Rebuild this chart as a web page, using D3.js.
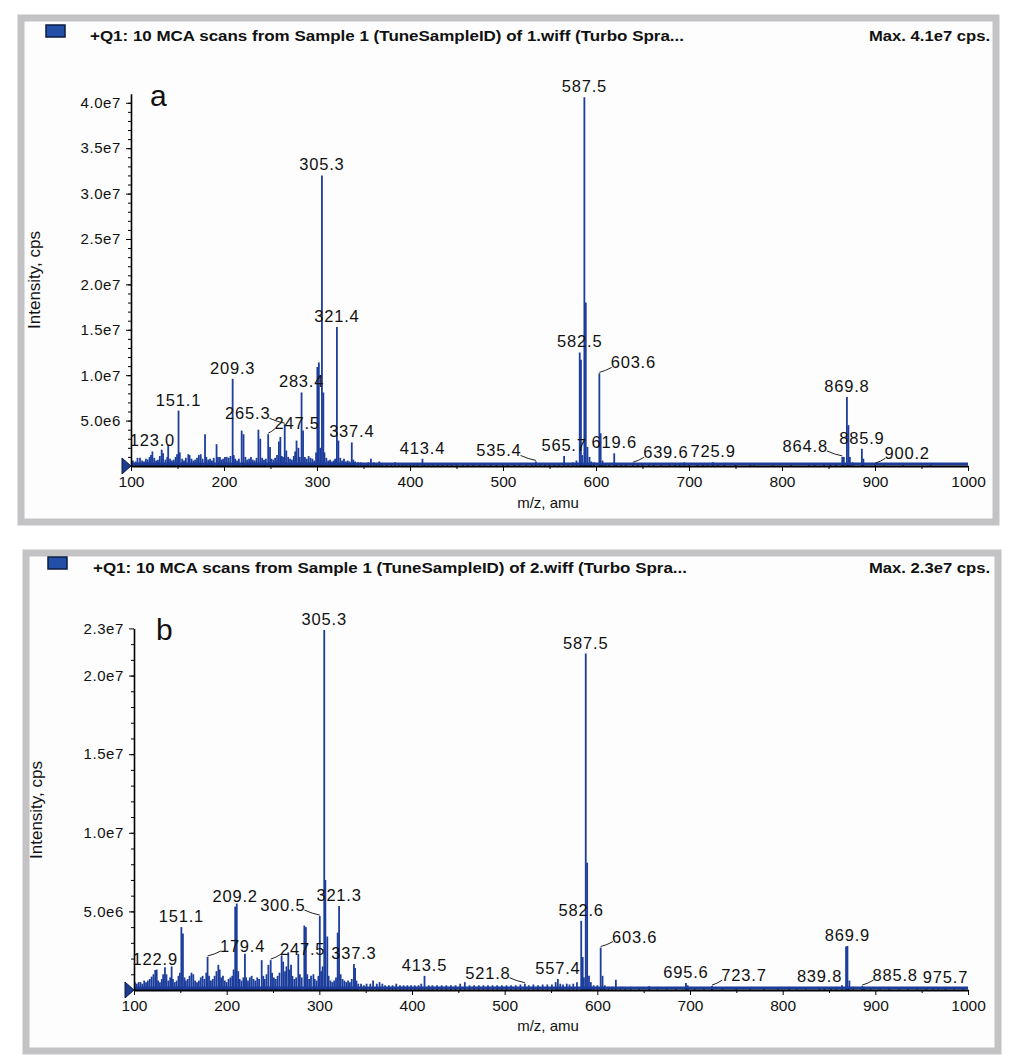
<!DOCTYPE html>
<html>
<head>
<meta charset="utf-8">
<script src="https://cdn.jsdelivr.net/npm/d3@7"></script>
<style>
  body { margin: 0; background: #fff; }
  svg text { font-family: "Liberation Sans", Arial, sans-serif; fill: #111; }
</style>
</head>
<body>
<svg id="chart" width="1024" height="1061"></svg>
<script>
// ---- data: [m/z, intensity in 1e6 cps] ----
const peaksA = [[102,0.6],[105,0.5],[107,0.9],[109.7,0.9],[112,0.6],[114,0.5],[116,0.8],[118,0.7],[120,1.0],[121.5,1.2],[123.0,1.6],[125,0.9],[127,0.6],[129,0.7],[131,1.1],[133,1.8],[134.5,1.4],[137,0.7],[139,1.0],[140,2.3],[142,0.8],[144,0.6],[146,0.7],[148,1.0],[149.5,1.3],[151.1,6.1],[152.5,1.5],[155,0.8],[157,0.6],[159,0.9],[161.6,1.3],[163,1.2],[165,0.8],[167,0.6],[169,0.7],[171,0.9],[173,1.2],[175,1.3],[177,0.8],[179.6,3.5],[181,1.0],[183,0.7],[185,0.8],[187,0.6],[189,0.9],[192,2.4],[193.5,1.0],[195.6,1.0],[197,0.7],[199,0.8],[201,1.0],[203,1.0],[205,0.9],[207,1.1],[209.3,9.6],[210.5,1.2],[212,0.8],[214,0.6],[216,0.8],[219,3.9],[221,3.5],[223,1.0],[225,0.7],[227,0.8],[229,1.0],[231,0.7],[233,0.6],[235,0.9],[237,4.0],[239,3.0],[241,0.9],[243,0.7],[245,0.8],[247.5,3.5],[249.5,2.1],[251,0.8],[253,0.7],[255,0.9],[257,1.2],[259,2.7],[260.6,3.2],[262,1.1],[263.5,1.0],[265.3,4.6],[267,1.7],[269,1.0],[271,0.8],[273,0.7],[275,1.1],[276.5,1.6],[278,2.8],[280,2.0],[281.5,1.0],[283.4,8.1],[285,3.9],[287,1.0],[289,0.8],[291,1.1],[293,0.9],[295,0.8],[297,0.6],[299,1.5],[300.4,10.9],[302,11.4],[303.5,2.0],[305.3,32.0],[306.8,8.1],[308,1.5],[310,0.9],[312,0.6],[314,0.7],[316,0.5],[318,0.6],[319.5,0.8],[321.4,15.3],[323,2.8],[325,0.9],[327,0.6],[329,0.8],[331,0.5],[333,0.6],[335,0.5],[337.4,2.6],[339,0.7],[341,0.5],[344,0.4],[347,0.4],[350,0.3],[353,0.3],[355,0.4],[358,0.8],[361,0.4],[364,0.3],[367,0.5],[370,0.3],[375,0.3],[380,0.3],[384,0.4],[388,0.3],[392,0.3],[396,0.3],[400,0.3],[404,0.3],[408,0.3],[413.4,0.8],[416,0.3],[420,0.3],[425,0.3],[430,0.3],[435,0.3],[440,0.3],[445,0.3],[450,0.3],[457,0.3],[462,0.3],[468,0.25],[475,0.25],[480,0.25],[487,0.25],[493,0.25],[500,0.3],[505,0.25],[512,0.25],[518,0.3],[525,0.3],[531,0.3],[535.4,0.5],[540,0.3],[545,0.25],[550,0.3],[555,0.3],[560,0.3],[565.7,1.1],[570,0.3],[575,0.4],[579,0.6],[582.5,12.5],[583.8,11.7],[585.3,1.2],[587.5,40.6],[589,18.0],[590.8,2.1],[593,1.0],[595,0.5],[598,0.4],[603.6,10.2],[605,3.6],[607,0.6],[610,0.3],[614,0.3],[619.6,1.4],[622,0.3],[627,0.2],[632,0.2],[639.6,0.3],[645,0.2],[650,0.2],[657,0.3],[662,0.2],[670,0.2],[679,0.3],[685,0.3],[690,0.3],[695,0.4],[700,0.2],[709,0.3],[715,0.2],[720,0.3],[725.9,0.4],[731,0.3],[738,0.2],[750,0.1],[766,0.3],[770,0.2],[790,0.1],[810,0.1],[829,0.2],[835,0.2],[845,0.2],[852,0.2],[858,0.3],[864.8,1.0],[866.5,1.0],[869.8,7.6],[871.4,4.5],[873,1.0],[876,0.4],[885.9,1.9],[887.5,0.8],[900.2,0.2],[910,0.1],[930,0.1],[960,0.1]];

const peaksB = [[101,0.5],[103,0.4],[105,0.5],[107,0.5],[109,0.4],[111,0.6],[113,0.5],[115,0.6],[117,0.7],[119,0.85],[121,1.0],[122.9,1.27],[124.5,1.3],[126,0.6],[128,0.5],[130,0.7],[131.5,1.0],[133.4,1.45],[135,1.0],[137,0.6],[139,0.8],[140.6,1.5],[142,0.7],[144,0.5],[146,0.6],[148,0.9],[149.5,1.1],[151.1,4.0],[152.8,3.6],[154.5,0.8],[156,0.6],[158,0.7],[160,0.9],[162,1.1],[164,1.0],[166,0.6],[168,0.5],[170,0.6],[172,0.8],[174,0.9],[176,0.7],[178,1.1],[179.4,2.1],[181,0.9],[183,0.6],[185,0.7],[187,0.9],[189,1.2],[191,1.6],[192.5,1.3],[194,0.8],[196,0.9],[198,0.6],[200,0.5],[202,0.7],[204,0.8],[206,0.9],[207.5,1.3],[209.2,5.3],[210.9,5.5],[212.5,1.2],[214,0.7],[216,0.6],[218,0.8],[219.7,2.3],[221,0.8],[223,0.6],[225,0.8],[227,0.9],[229,0.7],[231,0.6],[233,0.8],[235,0.7],[237.8,1.9],[239.5,0.9],[241,0.7],[243,1.0],[245,1.6],[247.5,1.9],[249,1.1],[251,0.8],[253,0.7],[255,0.9],[257,1.1],[259.3,2.2],[261,1.8],[263,1.2],[264.5,1.5],[266.5,2.4],[268,1.3],[269.5,1.6],[271,0.9],[273,0.7],[275,0.8],[277.3,2.3],[279,1.0],[281,0.8],[283.8,4.1],[285.5,4.0],[287,1.0],[289,0.7],[291,0.9],[293.6,1.0],[295,0.7],[297,0.6],[299,0.9],[300.5,4.7],[302,1.2],[303.5,1.5],[305.3,22.9],[306.5,7.0],[308.6,3.4],[310,0.9],[312,0.6],[314,0.5],[316,0.6],[318,0.8],[319.8,3.65],[321.3,5.35],[323,1.0],[325,0.7],[327,0.6],[329,0.5],[331,0.6],[333,0.5],[335,0.7],[337.3,1.65],[338.6,1.4],[340,0.6],[342,0.4],[345,0.4],[348,0.3],[351,0.4],[355,0.4],[358,0.6],[362,0.4],[365,0.5],[368,0.4],[371,0.3],[375,0.3],[379,0.3],[383,0.4],[387,0.3],[391,0.3],[395,0.3],[399,0.3],[403,0.3],[407,0.3],[410,0.4],[413.5,0.9],[418,0.3],[422,0.3],[427,0.3],[432,0.3],[437,0.3],[442,0.3],[447,0.3],[452,0.4],[457,0.5],[462,0.3],[467,0.3],[472,0.3],[477,0.3],[482,0.3],[487,0.3],[492,0.3],[497,0.3],[502,0.3],[507,0.3],[512,0.3],[517,0.35],[521.8,0.4],[526,0.3],[531,0.35],[536,0.3],[541,0.35],[546,0.35],[551,0.35],[555,0.5],[557.4,0.7],[560,0.4],[563,0.35],[567,0.4],[570,0.35],[574,0.4],[578,0.5],[582.6,4.4],[584.2,2.1],[585.5,0.8],[587.5,21.4],[589,8.1],[591,0.9],[593,0.5],[596,0.3],[600,0.3],[603.6,2.7],[605.6,0.9],[608,0.3],[612,0.2],[616,0.2],[620,0.65],[625,0.2],[630,0.15],[636,0.2],[645,0.15],[656,0.25],[665,0.15],[675,0.15],[685,0.15],[695.6,0.45],[697.5,0.3],[705,0.15],[715,0.15],[723.7,0.25],[735,0.1],[750,0.1],[765,0.1],[780,0.1],[795,0.1],[807,0.2],[815,0.15],[825,0.15],[839.8,0.2],[845,0.15],[852,0.15],[858,0.2],[864,0.3],[868.4,2.76],[869.9,2.8],[872,0.6],[876,0.2],[885.8,0.25],[888,0.2],[895,0.15],[905,0.15],[915,0.15],[926,0.15],[935,0.1],[945,0.15],[955,0.1],[962,0.15],[968,0.1],[975.7,0.12],[985,0.1],[995,0.1]];

// labelled peaks
const labelsA = [123.0,151.1,209.3,247.5,265.3,283.4,305.3,321.4,337.4,413.4,535.4,565.7,582.5,587.5,603.6,619.6,639.6,725.9,864.8,869.8,885.9,900.2];
const labelsB = [122.9,151.1,179.4,209.2,247.5,300.5,305.3,321.3,337.3,413.5,521.8,557.4,582.6,587.5,603.6,695.6,723.7,839.8,869.9,885.8,975.7];

// tick values
const xTicks = [100,200,300,400,500,600,700,800,900,1000];
const yTicksA = [5e6,1e7,1.5e7,2e7,2.5e7,3e7,3.5e7,4e7];
const yTicksB = [5e6,1e7,1.5e7,2e7,2.3e7];

const titleA = "+Q1: 10 MCA scans from Sample 1 (TuneSampleID) of 1.wiff (Turbo Spra...";
const titleB = "+Q1: 10 MCA scans from Sample 1 (TuneSampleID) of 2.wiff (Turbo Spra...";
const maxA = "Max. 4.1e7 cps.";
const maxB = "Max. 2.3e7 cps.";

// ---- layout ----
const BLUE = '#1c3d9c';
const svg = d3.select('#chart');

// label leader offsets (px) for labels pushed to the side of their peak
const leaderA = {247.5: 29, 265.3: -37, 535.4: -37, 603.6: 34, 639.6: 33, 864.8: -37, 900.2: 32};
const leaderB = {179.4: 35, 247.5: 32, 300.5: -37, 521.8: -37, 603.6: 34, 723.7: 32, 885.8: 33};

const panelA = {fx: 18, fy: 15, fw: 981, fh: 510, sq: [46, 25], tx: 90, ty: 41,
  xl: 131, xr: 968, base: 466, top: 93.7, ymax: 4.1e7, letter: 'a', lx: 150, ly: 106,
  ylabX: 40, ylabY: 280, xlabY: 508};
const panelB = {fx: 23, fy: 550, fw: 978, fh: 504, sq: [48, 557], tx: 93, ty: 573,
  xl: 134, xr: 968, base: 990, top: 628.4, ymax: 2.3e7, letter: 'b', lx: 156, ly: 640,
  ylabX: 42, ylabY: 810, xlabY: 1031};

const sciFmt = d => d3.format('.1e')(d).replace('+', '');

function drawPanel(p, peaks, labels, leaders, yTicks, title, maxText) {
  const g = svg.append('g');

  // frame
  g.append('rect')
    .attr('x', p.fx + 3).attr('y', p.fy + 3)
    .attr('width', p.fw - 6).attr('height', p.fh - 6)
    .attr('fill', '#fdfdfd').attr('stroke', '#c3c3c6').attr('stroke-width', 7);

  // header
  g.append('rect').attr('x', p.sq[0]).attr('y', p.sq[1]).attr('width', 19).attr('height', 12)
    .attr('fill', '#2150a6').attr('stroke', '#0d1d40').attr('stroke-width', 1.5);
  g.append('text').attr('x', p.tx).attr('y', p.ty).text(title)
    .attr('font-size', 14).attr('font-weight', 'bold').attr('fill', '#2a2a2a')
    .attr('textLength', 594).attr('lengthAdjust', 'spacingAndGlyphs');
  g.append('text').attr('x', 869).attr('y', p.ty).text(maxText)
    .attr('font-size', 14).attr('font-weight', 'bold').attr('fill', '#2a2a2a')
    .attr('textLength', 121).attr('lengthAdjust', 'spacingAndGlyphs');

  const x = d3.scaleLinear().domain([100, 1000]).range([p.xl, p.xr]);
  const y = d3.scaleLinear().domain([0, p.ymax]).range([p.base, p.top]);

  // spectrum sticks
  g.append('line')
    .attr('x1', x(100)).attr('x2', x(1000)).attr('y1', p.base - 2).attr('y2', p.base - 2)
    .attr('stroke', BLUE).attr('stroke-width', 3);
  g.selectAll('line.pk').data(peaks).join('line')
    .attr('class', 'pk')
    .attr('x1', d => x(d[0])).attr('x2', d => x(d[0]))
    .attr('y1', p.base).attr('y2', d => y(d[1] * 1e6))
    .attr('stroke', BLUE).attr('stroke-width', 1.8);

  // x axis
  const xa = g.append('g').attr('transform', `translate(0,${p.base})`)
    .call(d3.axisBottom(x).tickValues(xTicks).tickSize(5).tickSizeOuter(0).tickPadding(5).tickFormat(d3.format('d')));
  g.append('g').attr('transform', `translate(0,${p.base})`)
    .call(d3.axisBottom(x).tickValues(d3.range(150, 1000, 100)).tickSize(3).tickFormat(''))
    .select('.domain').remove();
  xa.selectAll('text').attr('font-size', 15.5).attr('font-family', '"Liberation Sans", Arial, sans-serif').attr('fill', '#111');
  xa.select('.domain').attr('stroke-width', 2);

  // y axis
  const ya = g.append('g').attr('transform', `translate(${p.xl},0)`)
    .call(d3.axisLeft(y).tickValues(yTicks).tickSize(5).tickSizeOuter(0).tickPadding(5).tickFormat(sciFmt));
  g.append('g').attr('transform', `translate(${p.xl},0)`)
    .call(d3.axisLeft(y).tickValues(d3.range(1e6, p.ymax, 1e6)).tickSize(3).tickFormat(''))
    .select('.domain').remove();
  ya.selectAll('text').attr('font-size', 15).attr('font-family', '"Liberation Sans", Arial, sans-serif')
    .attr('fill', '#111').attr('letter-spacing', 0.6);
  ya.select('.domain').attr('stroke-width', 1.6);

  // origin marker
  g.append('path')
    .attr('d', `M${p.xl - 9},${p.base - 8}L${p.xl},${p.base}L${p.xl - 9},${p.base + 8}Z`)
    .attr('fill', '#1d3c8f').attr('stroke', '#0c1a44').attr('stroke-width', 1);

  // peak labels
  labels.forEach(m => {
    const pk = peaks.reduce((a, b) => Math.abs(b[0] - m) < Math.abs(a[0] - m) ? b : a);
    const px = x(pk[0]), py = y(pk[1] * 1e6);
    const dx = leaders[m] || 0;
    const t = g.append('text')
      .attr('x', px + dx).attr('y', py - 5)
      .attr('text-anchor', 'middle').attr('font-size', 16.5).attr('letter-spacing', 0.8)
      .text(m.toFixed(1));
    if (dx) {
      const half = t.node().getComputedTextLength() / 2;
      const ex = dx > 0 ? px + dx - half + 1 : px + dx + half - 1;
      g.append('path')
        .attr('d', `M${px},${py - 1}L${(px + ex) / 2},${py - 3}L${ex},${py - 6}`)
        .attr('fill', 'none').attr('stroke', '#222').attr('stroke-width', 1);
    }
  });

  // axis titles and panel letter
  g.append('text').attr('transform', `translate(${p.ylabX},${p.ylabY}) rotate(-90)`)
    .attr('text-anchor', 'middle').attr('font-size', 17).text('Intensity, cps');
  g.append('text').attr('x', 548).attr('y', p.xlabY)
    .attr('text-anchor', 'middle').attr('font-size', 15).attr('fill', '#222')
    .text('m/z, amu');
  g.append('text').attr('x', p.lx).attr('y', p.ly).attr('font-size', 30).text(p.letter);
}

drawPanel(panelA, peaksA, labelsA, leaderA, yTicksA, titleA, maxA);
drawPanel(panelB, peaksB, labelsB, leaderB, yTicksB, titleB, maxB);
</script>
</body>
</html>
